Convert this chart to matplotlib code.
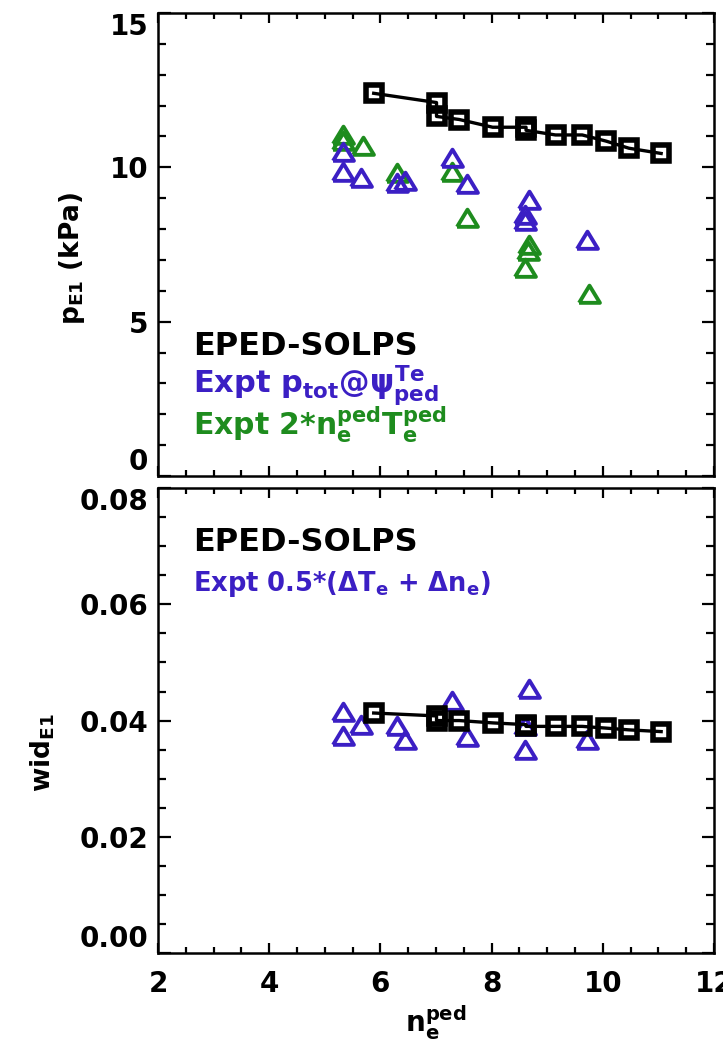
import matplotlib
matplotlib.use('Agg')
import matplotlib.pyplot as plt
from matplotlib.ticker import MultipleLocator

# EPED-SOLPS predictions (black squares)
eped_ne = [5.88, 7.01, 7.01, 7.42, 8.02, 8.62, 8.62, 9.15, 9.63, 10.06, 10.47, 11.05]
eped_p = [12.4, 12.1, 11.65, 11.55, 11.3, 11.3, 11.2, 11.05, 11.05, 10.85, 10.62, 10.45]
eped_wid = [0.0413, 0.0408, 0.0400, 0.0400, 0.0396, 0.0393, 0.0390, 0.0390, 0.0390,
            0.0387, 0.0384, 0.0381]

# experiment: p_tot at psi_ped(Te) and pedestal width (blue)
expt_ne = [5.32, 5.32, 5.66, 6.30, 6.45, 7.28, 7.55, 8.68, 8.60, 8.60, 9.72]
expt_p = [10.5, 9.85, 9.65, 9.5, 9.55, 10.3, 9.45, 8.95, 8.45, 8.25, 7.65]
expt_wid = [0.0415, 0.0373, 0.0393, 0.0390, 0.0366, 0.0433, 0.0371, 0.0455, 0.0390,
            0.0350, 0.0367]

# experiment: 2*ne*Te (green)
nt_ne = [5.32, 5.32, 5.68, 6.30, 7.28, 7.55, 8.68, 8.65, 8.60, 9.75]
nt_p = [11.05, 10.85, 10.68, 9.82, 9.84, 8.35, 7.48, 7.30, 6.75, 5.90]

BLUE = '#3b1fc4'
GREEN = '#1e8c1e'

plt.rcParams['font.family'] = ['DejaVu Sans']
plt.rcParams['font.weight'] = 'bold'
plt.rcParams['mathtext.fontset'] = 'custom'
plt.rcParams['mathtext.rm'] = 'DejaVu Sans:bold'
plt.rcParams['mathtext.it'] = 'DejaVu Sans:bold'
plt.rcParams['mathtext.bf'] = 'DejaVu Sans:bold'

TRI = [(-1, -0.8), (1, -0.8), (0, 0.85), (-1, -0.8)]


def style_axes(ax, xlabels):
    ax.set_xlim(2, 12)
    ax.xaxis.set_major_locator(MultipleLocator(2))
    ax.xaxis.set_minor_locator(MultipleLocator(0.5))
    for s in ax.spines.values():
        s.set_linewidth(1.8)
    ax.tick_params(axis='both', which='both', direction='in', top=True, right=True,
                   width=1.6, labelsize=20)
    ax.tick_params(axis='x', which='major', length=7, pad=12, labelbottom=xlabels)
    ax.tick_params(axis='x', which='minor', length=4.5)
    ax.tick_params(axis='y', which='major', length=9, pad=7)
    ax.tick_params(axis='y', which='minor', length=5.5)
    # keep the end labels inside the axis range, like the original
    lo, hi = ax.get_ylim()
    locs = ax.get_yticks()
    ticks = ax.yaxis.get_major_ticks(len(locs))
    for t, v in zip(ticks, locs):
        if abs(v - lo) < 1e-6 * (hi - lo):
            t.label1.set_verticalalignment('bottom')
        elif abs(v - hi) < 1e-6 * (hi - lo):
            t.label1.set_verticalalignment('top')


def main():
    fig = plt.figure(figsize=(7.23, 10.51), dpi=100)
    ax1 = fig.add_axes([0.2185, 0.5471, 0.769, 0.4405])
    ax2 = fig.add_axes([0.2185, 0.0932, 0.769, 0.4424])

    # top panel: pedestal pressure
    ax1.plot(nt_ne, nt_p, ls='none', marker=TRI, ms=15, mfc='none', mec=GREEN, mew=2.8)
    ax1.plot(expt_ne, expt_p, ls='none', marker=TRI, ms=15, mfc='none', mec=BLUE, mew=2.8)
    ax1.plot(eped_ne, eped_p, color='black', lw=2.4, marker='s', ms=11.5, mfc='none',
             mec='black', mew=4)
    ax1.set_ylim(0, 15)
    ax1.yaxis.set_major_locator(MultipleLocator(5))
    ax1.yaxis.set_minor_locator(MultipleLocator(1))
    style_axes(ax1, False)
    ax1.set_ylabel(r'p$_{E1}$ (kPa)', fontsize=19, fontweight='bold')
    ax1.yaxis.set_label_coords(-0.128, 0.47)

    ax1.text(0.063, 0.261, 'EPED-SOLPS', transform=ax1.transAxes, fontsize=23,
             color='black', va='baseline')
    ax1.text(0.063, 0.179, r'Expt p$_{tot}$@$\psi^{Te}_{ped}$', transform=ax1.transAxes,
             fontsize=22, color=BLUE, va='baseline')
    ax1.text(0.063, 0.089, r'Expt 2*n$_e^{ped}$T$_e^{ped}$', transform=ax1.transAxes,
             fontsize=21.5, color=GREEN, va='baseline')

    # bottom panel: pedestal width
    ax2.plot(expt_ne, expt_wid, ls='none', marker=TRI, ms=15, mfc='none', mec=BLUE, mew=2.8)
    ax2.plot(eped_ne, eped_wid, color='black', lw=2.4, marker='s', ms=11.5, mfc='none',
             mec='black', mew=4)
    ax2.set_ylim(0, 0.08)
    ax2.yaxis.set_major_locator(MultipleLocator(0.02))
    ax2.yaxis.set_minor_locator(MultipleLocator(0.005))
    ax2.yaxis.set_major_formatter(plt.FormatStrFormatter('%.2f'))
    style_axes(ax2, True)
    ax2.set_ylabel(r'wid$_{E1}$', fontsize=19, fontweight='bold')
    ax2.yaxis.set_label_coords(-0.182, 0.43)
    ax2.set_xlabel(r'n$_e^{ped}$', fontsize=20, fontweight='bold', labelpad=4)

    ax2.text(0.063, 0.865, 'EPED-SOLPS', transform=ax2.transAxes, fontsize=23,
             color='black', va='baseline')
    ax2.text(0.063, 0.778, r'Expt 0.5*($\Delta$T$_e$ + $\Delta$n$_e$)',
             transform=ax2.transAxes, fontsize=18.5, color=BLUE, va='baseline')

    fig.savefig('out.png', dpi=100)
    plt.close(fig)


if __name__ == '__main__':
    main()
